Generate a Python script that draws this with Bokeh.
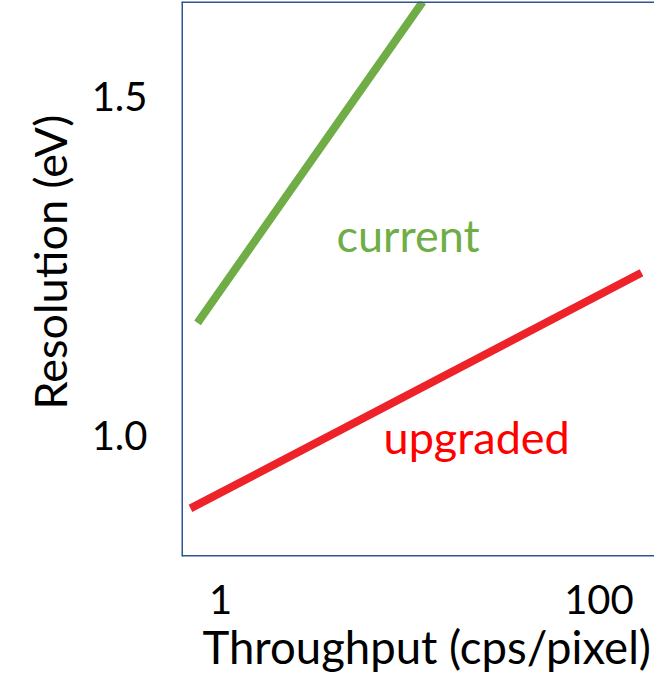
from bokeh.plotting import figure
from bokeh.models import FixedTicker, Span, Label, Range1d, Title
from bokeh.embed import file_html
from bokeh.resources import INLINE

# data
current_x = [0.756, 11.7]
current_y = [1.166, 1.640]
upgraded_x = [0.694, 167.7]
upgraded_y = [0.892, 1.240]
x_ticks = [1, 100]
x_tick_labels = ["1", "100"]
y_ticks = [1.0, 1.5]
y_tick_labels = ["1.0", "1.5"]

FONT = "Lato"
GREEN = "#70ad47"
RED = "#ee2229"
BLUE = "#2f5597"

X0, X1 = 0.622, 196.5
Y0, Y1 = 0.821, 1.6405

p = figure(width=654, height=677, x_axis_type="log",
           x_range=Range1d(X0, X1), y_range=Range1d(Y0, Y1),
           output_backend="svg", toolbar_location=None,
           min_border_left=181, min_border_top=1, min_border_right=0,
           min_border_bottom=121)
p.outline_line_color = None
p.grid.visible = False
p.background_fill_color = "white"
p.border_fill_color = "white"

p.line(current_x, current_y, line_color=GREEN, line_width=8)
p.line(upgraded_x, upgraded_y, line_color=RED, line_width=8)

for ax in (p.xaxis[0], p.yaxis[0]):
    ax.axis_line_color = None
    ax.major_tick_line_color = None
    ax.minor_tick_line_color = None
    ax.major_label_text_font = FONT
    ax.major_label_text_font_size = "40px"
    ax.major_label_text_color = "black"

p.xaxis.ticker = FixedTicker(ticks=x_ticks, minor_ticks=[])
p.xaxis.major_label_overrides = dict(zip(x_ticks, x_tick_labels))
p.yaxis.ticker = FixedTicker(ticks=y_ticks, minor_ticks=[])
p.yaxis.major_label_overrides = dict(zip(y_ticks, y_tick_labels))
p.xaxis.major_label_standoff = 22
p.yaxis.major_label_standoff = 28

# axis titles, placed like the reference
p.add_layout(Title(text="Throughput (cps/pixel)", align="left", offset=21,
                   text_font=FONT, text_font_size="45.5px", text_font_style="normal",
                   text_color="black", standoff=0), "below")
p.add_layout(Title(text="Resolution (eV)", align="left", offset=147,
                   vertical_align="top",
                   text_font=FONT, text_font_size="45px", text_font_style="normal",
                   text_color="black", standoff=20), "left")

# frame border (left, top, bottom)
p.add_layout(Span(location=X0, dimension="height", line_color=BLUE, line_width=3))
p.add_layout(Span(location=Y1, dimension="width", line_color=BLUE, line_width=3))
p.add_layout(Span(location=Y0, dimension="width", line_color=BLUE, line_width=3))

p.add_layout(Label(x=4.10, y=1.2959, text="current", text_color=GREEN,
                   text_font=FONT, text_font_size="45px",
                   text_baseline="alphabetic", text_align="left"))
p.add_layout(Label(x=7.27, y=0.997, text="upgraded", text_color="#ff0000",
                   text_font=FONT, text_font_size="45px",
                   text_baseline="alphabetic", text_align="left"))

open("out.html", "w").write(file_html(p, INLINE))
